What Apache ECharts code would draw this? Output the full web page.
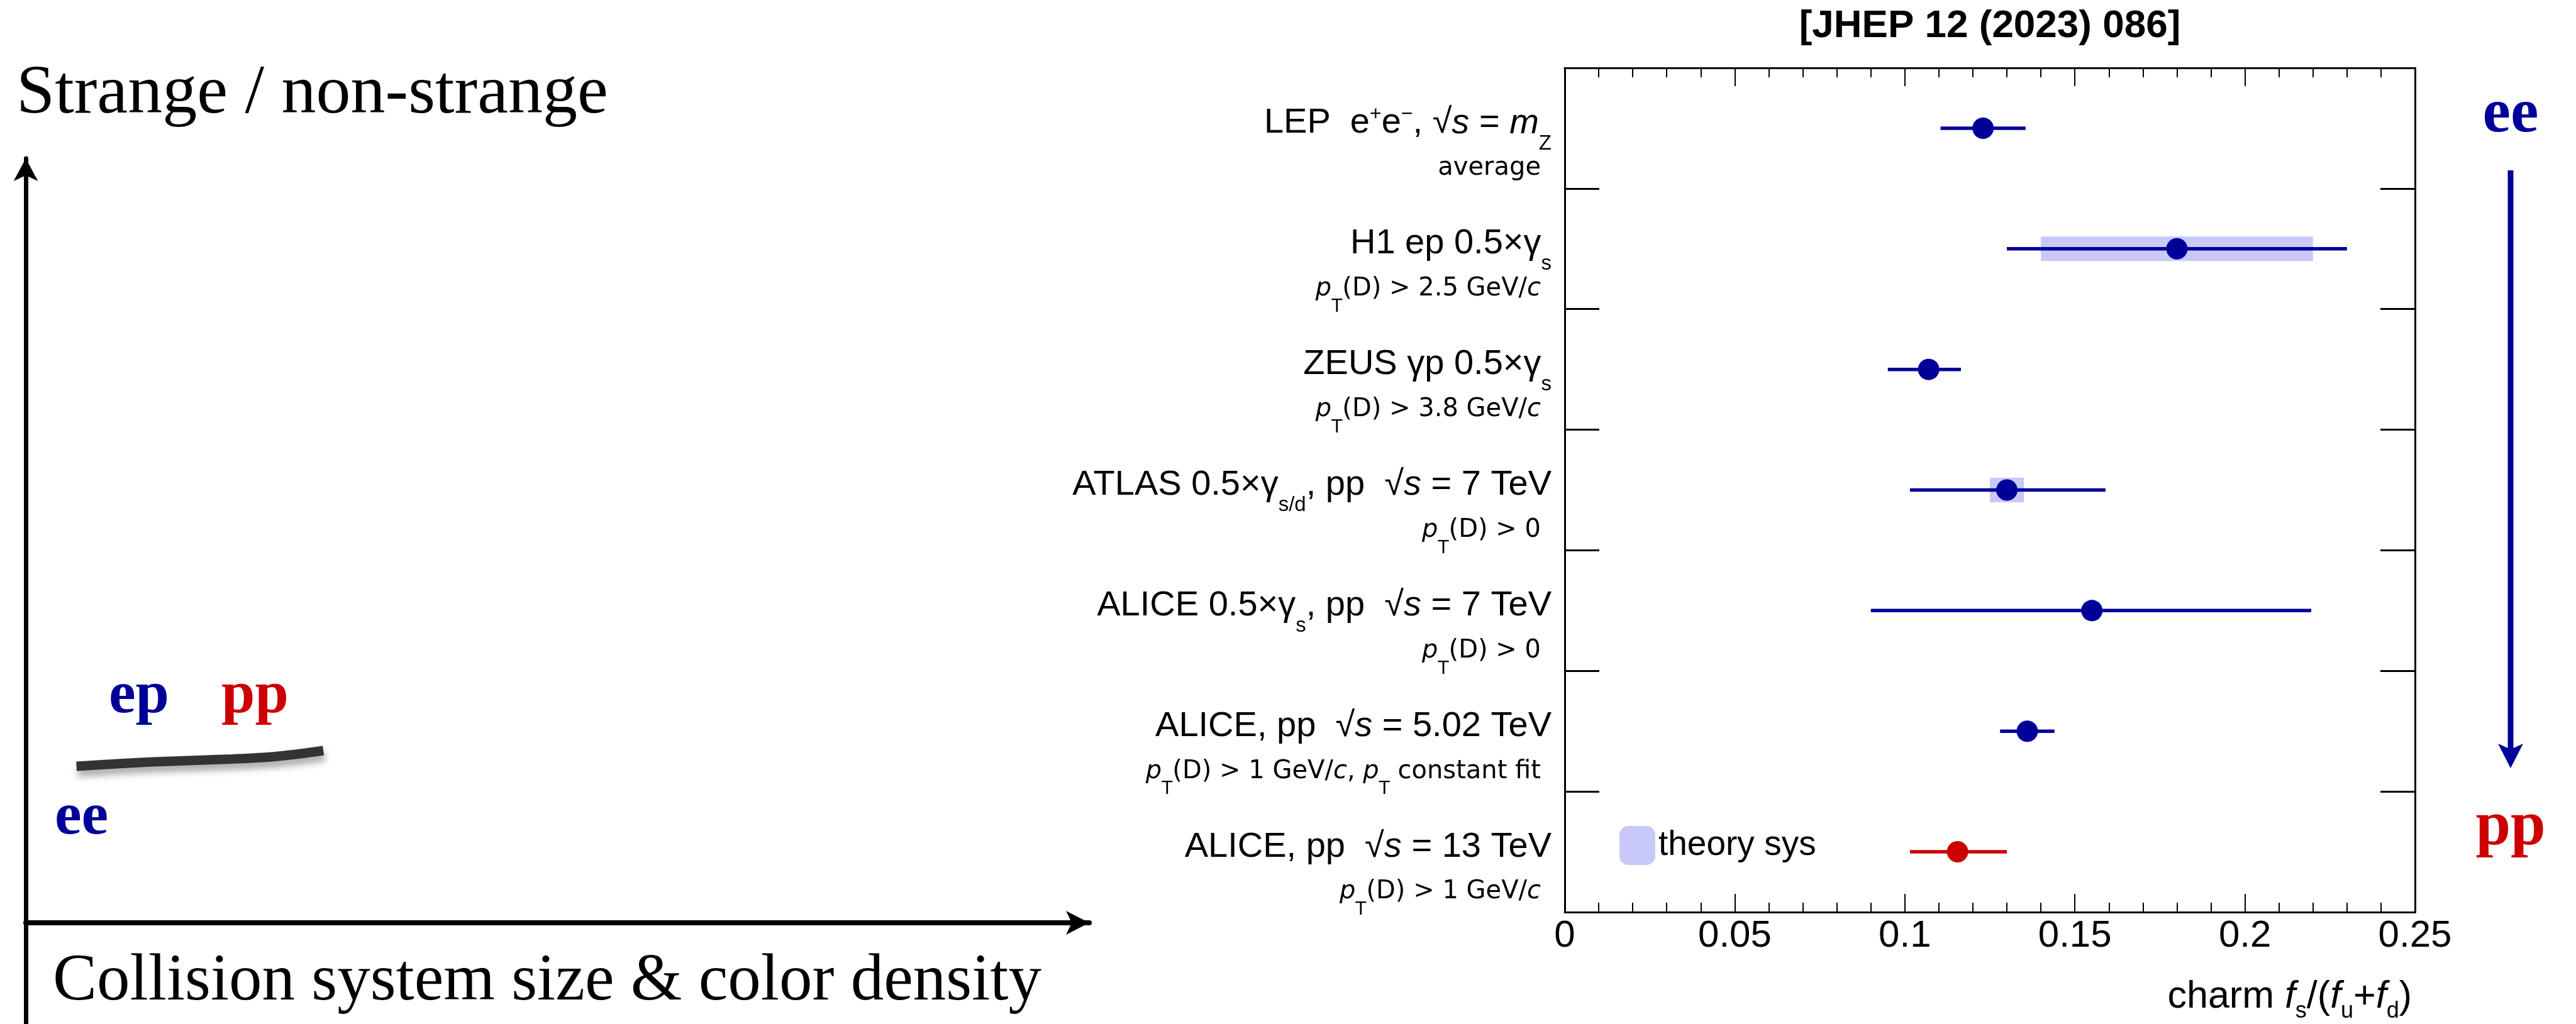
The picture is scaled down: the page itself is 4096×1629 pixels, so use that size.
<!DOCTYPE html>
<html>
<head>
<meta charset="utf-8">
<script src="https://cdn.jsdelivr.net/npm/echarts@6/dist/echarts.min.js"></script>
<style>
    html, body {margin: 0; padding: 0; background: #fff;}
    #main {width: 4096px; height: 1629px;}
</style>
</head>
<body>
<div id="main"></div>
<script>
// measurements, top to bottom
var measurements = ['LEP', 'H1', 'ZEUS', 'ATLAS', 'ALICE 7 TeV', 'ALICE 5.02 TeV', 'ALICE 13 TeV'];
var mainLabels = [
    '{t|LEP  e}{sp|+}{t|e}{sp|−}{t|, √}{ti|s}{t| = }{ti|m}{sb|Z}',
    '{t|H1 ep 0.5×γ}{sb|s}',
    '{t|ZEUS γp 0.5×γ}{sb|s}',
    '{t|ATLAS 0.5×γ}{sb|s/d}{t|, pp  √}{ti|s}{t| = 7 TeV}',
    '{t|ALICE 0.5×γ}{sb|s}{t|, pp  √}{ti|s}{t| = 7 TeV}',
    '{t|ALICE, pp  √}{ti|s}{t| = 5.02 TeV}',
    '{t|ALICE, pp  √}{ti|s}{t| = 13 TeV}'
];
var subLabels = [
    '{u|average}',
    '{ui|p}{ub|T}{u|(D) > 2.5 GeV/}{ui|c}',
    '{ui|p}{ub|T}{u|(D) > 3.8 GeV/}{ui|c}',
    '{ui|p}{ub|T}{u|(D) > 0}',
    '{ui|p}{ub|T}{u|(D) > 0}',
    '{ui|p}{ub|T}{u|(D) > 1 GeV/}{ui|c}{u|, }{ui|p}{ub|T}{u| constant fit}',
    '{ui|p}{ub|T}{u|(D) > 1 GeV/}{ui|c}'
];
var fsRatio = [0.123, 0.180, 0.107, 0.130, 0.155, 0.136, 0.1155];
var errLow = [0.1105, 0.130, 0.095, 0.1015, 0.090, 0.128, 0.1015];
var errHigh = [0.1355, 0.230, 0.1165, 0.159, 0.2195, 0.144, 0.130];
var sysLow = [null, 0.140, null, 0.125, null, null, null];
var sysHigh = [null, 0.220, null, 0.135, null, null, null];
var thisWork = 'ALICE 13 TeV';

// schematic curve of the left panel (x: % of axis, y: axis units)
var curveX = [4.77, 12.0, 19.37, 23.09, 25.84, 27.98];
var curveY = [24.9, 25.6, 26.05, 26.4, 26.9, 27.4];

var blue = '#000099', red = '#cc0000', sysColor = '#c8c8fa';
var sans = 'Liberation Sans', sans2 = 'DejaVu Sans', serif = 'Liberation Serif';

var labelRich = {
    t: {fontFamily: sans, fontSize: 56, lineHeight: 80, color: '#000', align: 'right'},
    ti: {fontFamily: sans, fontSize: 56, lineHeight: 80, color: '#000', align: 'right', fontStyle: 'italic'},
    sp: {fontFamily: sans, fontSize: 32, lineHeight: 10, color: '#000', align: 'right', verticalAlign: 'top', padding: [10, 0, 0, 0]},
    sb: {fontFamily: sans, fontSize: 33, lineHeight: 10, color: '#000', align: 'right', verticalAlign: 'top', padding: [56, 0, 0, 0]},
    u: {fontFamily: sans2, fontSize: 40, lineHeight: 64, color: '#000', align: 'right'},
    ui: {fontFamily: sans2, fontSize: 40, lineHeight: 64, color: '#000', align: 'right', fontStyle: 'italic'},
    ub: {fontFamily: sans2, fontSize: 28, lineHeight: 10, color: '#000', align: 'right', verticalAlign: 'top', padding: [47, 0, 0, 0]},
    gap: {width: 17, lineHeight: 10, align: 'right'}
};
var nameRich = {
    n: {fontFamily: sans, fontSize: 61, lineHeight: 70, color: '#000', align: 'right'},
    ni: {fontFamily: sans, fontSize: 61, lineHeight: 70, color: '#000', align: 'right', fontStyle: 'italic'},
    ns: {fontFamily: sans, fontSize: 36, lineHeight: 10, color: '#000', align: 'right', verticalAlign: 'top', padding: [40, 0, 0, 0]}
};

var sysData = [], errData = [], pointData = [];
measurements.forEach(function (m, i) {
    if (sysLow[i] != null) sysData.push([m, sysLow[i], sysHigh[i]]);
    errData.push([m, errLow[i], errHigh[i]]);
    pointData.push({value: [fsRatio[i], m], itemStyle: {color: m === thisWork ? red : blue}});
});
var curveData = curveX.map(function (x, i) { return [x, curveY[i]]; });

var chart = echarts.init(document.getElementById('main'));

var tickAxis = function (pos) {
    return {
        type: 'value', gridIndex: 0, position: pos, min: 0, max: 0.25, interval: 0.05,
        axisLine: {show: true, onZero: false, lineStyle: {color: '#000', width: 3}},
        axisTick: {show: true, inside: true, length: 29, lineStyle: {color: '#000', width: 2}},
        minorTick: {show: true, splitNumber: 5, length: 15, lineStyle: {color: '#000', width: 2}},
        splitLine: {show: false},
        axisLabel: {show: false}
    };
};
var bottomAxis = tickAxis('bottom');
bottomAxis.axisLabel = {show: true, margin: 8, fontFamily: sans, fontSize: 60, color: '#000'};
bottomAxis.name = '{n|charm }{ni|f}{ns|s}{n|/(}{ni|f}{ns|u}{n|+}{ni|f}{ns|d}{n|)}';
bottomAxis.nameLocation = 'end';
bottomAxis.nameGap = -5;
bottomAxis.nameTextStyle = {align: 'right', verticalAlign: 'top', padding: [100, 0, 0, 0], rich: nameRich};

var catAxis = function (pos) {
    return {
        type: 'category', gridIndex: 0, position: pos, inverse: true, data: measurements,
        axisLine: {show: true, onZero: false, lineStyle: {color: '#000', width: 3}},
        axisTick: {show: true, inside: true, length: 55, interval: 0, lineStyle: {color: '#000', width: 3}},
        splitLine: {show: false},
        axisLabel: {show: false}
    };
};
var leftAxis = catAxis('left');
leftAxis.axisLabel = {
    show: true, interval: 0, margin: 21, padding: [48, 0, 0, 0], rich: labelRich,
    formatter: function (v, i) { return mainLabels[i] + '\n' + subLabels[i] + '{gap| }'; }
};

var option = {
    animation: false,
    backgroundColor: '#fff',
    title: {
        text: '[JHEP 12 (2023) 086]', left: 3164, top: 7, textAlign: 'center', padding: 0,
        textStyle: {fontFamily: sans, fontSize: 62, fontWeight: 'bold', lineHeight: 70, color: '#000'}
    },
    legend: {
        left: 2575, top: 1314, padding: 0, itemWidth: 57, itemHeight: 62, selectedMode: false,
        data: [{name: 'theory sys', icon: 'roundRect'}],
        textStyle: {fontFamily: sans, fontSize: 55, color: '#000'}
    },
    grid: [
        {left: 2488, right: 256, top: 108, bottom: 178},
        {left: 41, right: 2364, top: 252, bottom: 0}
    ],
    xAxis: [
        bottomAxis,
        tickAxis('top'),
        {
            type: 'value', gridIndex: 1, min: 0, max: 100,
            axisLine: {show: true, onZero: true, symbol: ['none', 'arrow'], symbolSize: [28.5, 37], lineStyle: {color: '#000', width: 8}},
            axisTick: {show: false}, axisLabel: {show: false}, splitLine: {show: false}
        }
    ],
    yAxis: [
        leftAxis,
        catAxis('right'),
        {
            type: 'value', gridIndex: 1, min: -16.1, max: 121.6,
            axisLine: {show: true, onZero: true, symbol: ['none', 'arrow'], symbolSize: [29, 36], lineStyle: {color: '#000', width: 7}},
            axisTick: {show: false}, axisLabel: {show: false}, splitLine: {show: false}
        }
    ],
    series: [
        {
            name: 'theory sys', type: 'custom', xAxisIndex: 0, yAxisIndex: 0, z: 1,
            itemStyle: {color: sysColor},
            encode: {x: [1, 2], y: 0},
            data: sysData,
            renderItem: function (params, api) {
                var p1 = api.coord([api.value(1), api.value(0)]);
                var p2 = api.coord([api.value(2), api.value(0)]);
                return {type: 'rect', shape: {x: p1[0], y: p1[1] - 19.5, width: p2[0] - p1[0], height: 39}, style: {fill: sysColor}};
            }
        },
        {
            name: 'stat', type: 'custom', xAxisIndex: 0, yAxisIndex: 0, z: 2,
            encode: {x: [1, 2], y: 0},
            data: errData,
            renderItem: function (params, api) {
                var p1 = api.coord([api.value(1), api.value(0)]);
                var p2 = api.coord([api.value(2), api.value(0)]);
                var c = measurements[params.dataIndex] === thisWork ? red : blue;
                return {type: 'line', shape: {x1: p1[0], y1: p1[1], x2: p2[0], y2: p2[1]}, style: {stroke: c, lineWidth: 5.5}};
            }
        },
        {
            name: 'fs', type: 'scatter', xAxisIndex: 0, yAxisIndex: 0, z: 3,
            symbol: 'circle', symbolSize: 34,
            itemStyle: {opacity: 1},
            data: pointData
        },
        {
            name: 'trend', type: 'line', xAxisIndex: 2, yAxisIndex: 2,
            smooth: 0.3, symbol: 'none',
            lineStyle: {color: '#333', width: 15, shadowColor: 'rgba(0,0,0,0.35)', shadowBlur: 12, shadowOffsetX: 2, shadowOffsetY: 9},
            data: curveData
        }
    ],
    graphic: [
        {type: 'text', x: 26, y: 150.6, style: {text: 'Strange / non-strange', fontFamily: serif, fontSize: 110, fill: '#000', align: 'left', verticalAlign: 'middle'}},
        {type: 'text', x: 84, y: 1562.6, style: {text: 'Collision system size & color density', fontFamily: serif, fontSize: 105, fill: '#000', align: 'left', verticalAlign: 'middle'}},
        {type: 'text', x: 173, y: 1108.6, style: {text: 'ep', fontFamily: serif, fontWeight: 'bold', fontSize: 96, fill: blue, align: 'left', verticalAlign: 'middle'}},
        {type: 'text', x: 352, y: 1108.6, style: {text: 'pp', fontFamily: serif, fontWeight: 'bold', fontSize: 96, fill: red, align: 'left', verticalAlign: 'middle'}},
        {type: 'text', x: 87, y: 1301.6, style: {text: 'ee', fontFamily: serif, fontWeight: 'bold', fontSize: 96, fill: blue, align: 'left', verticalAlign: 'middle'}},
        {type: 'text', x: 3992, y: 183, style: {text: 'ee', fontFamily: serif, fontWeight: 'bold', fontSize: 100, fill: blue, align: 'center', verticalAlign: 'middle'}},
        {type: 'text', x: 3992, y: 1317, style: {text: 'pp', fontFamily: serif, fontWeight: 'bold', fontSize: 100, fill: red, align: 'center', verticalAlign: 'middle'}},
        {type: 'line', shape: {x1: 3992, y1: 271, x2: 3992, y2: 1195}, style: {stroke: blue, lineWidth: 9}},
        {type: 'polygon', shape: {points: [[3992, 1222], [3972, 1183], [3992, 1192], [4012, 1183]]}, style: {fill: blue}}
    ]
};
chart.setOption(option);
</script>
</body>
</html>
